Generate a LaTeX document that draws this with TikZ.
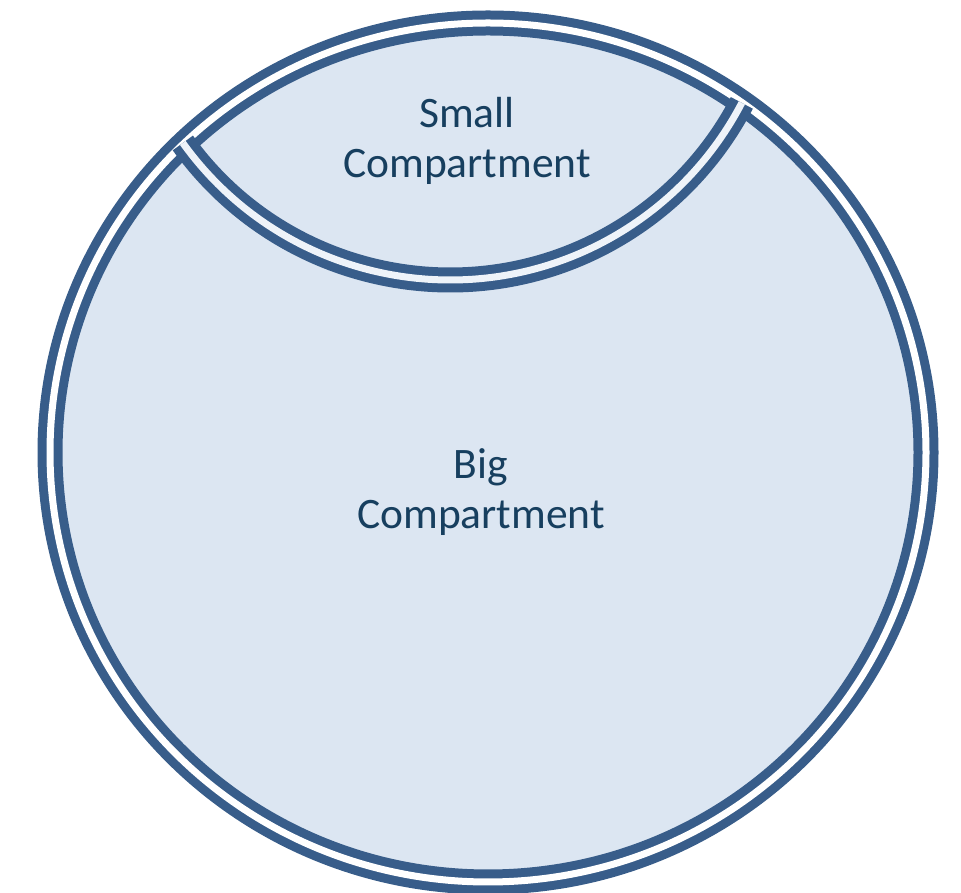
\documentclass[tikz,border=0pt]{standalone}
\usepackage{fontspec}
\setmainfont{Carlito}
\definecolor{ringblue}{HTML}{385D8A}
\definecolor{fillblue}{HTML}{DCE6F2}
\definecolor{textblue}{HTML}{173F5F}
\definecolor{gapblue}{HTML}{EEF3F9}
\tikzset{
  membrane/.style={draw=ringblue, line width=9pt, double distance=7pt},
  label/.style={text=textblue, align=center, font=\fontsize{43.5}{50}\selectfont, inner sep=0pt}
}
\begin{document}
\begin{tikzpicture}[x=1pt,y=1pt]
\useasboundingbox (0,0) rectangle (961,893);
% big cell
\fill[fillblue] (488,440.5) ellipse [x radius=438, y radius=429.5];
\draw[membrane, double=white] (488,440.5) ellipse [x radius=438, y radius=429.5];
% small compartment boundary
\draw[membrane, double=gapblue] (450,942) ++(215.7:329) arc [start angle=215.7, end angle=332.5, radius=329];
% labels
\node[label] (small) at (467,752) {Small\\Compartment};
\node[label] (big) at (481,400.5) {Big\\Compartment};
\end{tikzpicture}
\end{document}
